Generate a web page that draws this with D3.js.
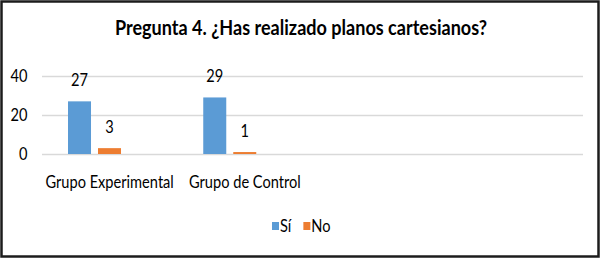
<!DOCTYPE html>
<html>
<head>
<title>Pregunta 4</title>
<script src="https://d3js.org/d3.v7.min.js"></script>
<style>
body { margin: 0; background: #fff; }
text { font-family: Lato, "Open Sans", sans-serif; fill: #000; }
</style>
</head>
<body>
<svg id="chart" width="601" height="259"></svg>
<script>
// data
const categories = ["Grupo Experimental", "Grupo de Control", "", ""];
const seriesNames = ["Sí", "No"];
const siValues = [27, 29];
const noValues = [3, 1];
const yTicks = [0, 20, 40];
const title = "Pregunta 4. ¿Has realizado planos cartesianos?";

const colors = { "Sí": "#5b9bd5", "No": "#ed7d31" };
const SX = 0.86; // the original text is a bit narrower than Lato

const svg = d3.select("#chart");
const W = +svg.attr("width"), H = +svg.attr("height");
const PLOT = { left: 42, right: 583, top: 76, bottom: 154 };

// frame
svg.append("rect")
   .attr("x", 1.5).attr("y", 1.5)
   .attr("width", W - 4).attr("height", H - 4)
   .attr("fill", "#fff")
   .attr("stroke", "#1c1c1c")
   .attr("stroke-width", 2.5);

function label(g, x, y, txt, size, anchor) {
  return g.append("text")
          .attr("transform", `translate(${x},${y}) scale(${SX},1)`)
          .attr("text-anchor", anchor || "middle")
          .style("font-size", size + "px")
          .text(txt);
}

label(svg, 301, 35, title, 21, "middle").style("font-weight", "bold");

const y = d3.scaleLinear().domain([0, 40]).range([PLOT.bottom, PLOT.top]);
const x0 = d3.scaleBand().domain(d3.range(categories.length)).range([PLOT.left, PLOT.right]);
// three slots per group as in the source chart, third one stays empty
const x1 = d3.scaleBand().domain(["Sí", "No", "-"]).range([26, 109]).paddingInner(0.233);

const yAxis = d3.axisLeft(y)
                .tickValues(yTicks)
                .tickSize(-(PLOT.right - PLOT.left))
                .tickPadding(17);

const ag = svg.append("g")
              .attr("transform", `translate(${PLOT.left},0)`)
              .call(yAxis);
ag.select(".domain").remove();
ag.selectAll("line").attr("stroke", "#d9d9d9").attr("stroke-width", 1.3);
ag.selectAll("text")
  .attr("fill", "#000")
  .attr("transform", `scale(${SX},1)`)
  .style("font-size", "17px")
  .style("font-family", "Lato, sans-serif");

const rows = [];
categories.forEach((c, i) => {
  if (i < siValues.length) {
    rows.push({ cat: i, s: "Sí", v: siValues[i] });
    rows.push({ cat: i, s: "No", v: noValues[i] });
  }
});

svg.append("g").selectAll("rect")
   .data(rows)
   .join("rect")
   .attr("x", d => x0(d.cat) + x1(d.s))
   .attr("y", d => y(d.v))
   .attr("width", x1.bandwidth())
   .attr("height", d => y(0) - y(d.v))
   .attr("fill", d => colors[d.s]);

rows.forEach(d => {
  label(svg, x0(d.cat) + x1(d.s) + x1.bandwidth() / 2, y(d.v) - 15, d.v, 17);
});

categories.forEach((c, i) => {
  label(svg, x0(i) + x0.bandwidth() / 2, 188, c, 17);
});

// legend
const leg = svg.append("g");
let lx = 272;
seriesNames.forEach(s => {
  leg.append("rect").attr("x", lx).attr("y", 222).attr("width", 7).attr("height", 8).attr("fill", colors[s]);
  const t = label(leg, lx + 8, 232, s, 17, "start");
  lx += 8 + t.node().getComputedTextLength() * SX + 12;
});
</script>
</body>
</html>
